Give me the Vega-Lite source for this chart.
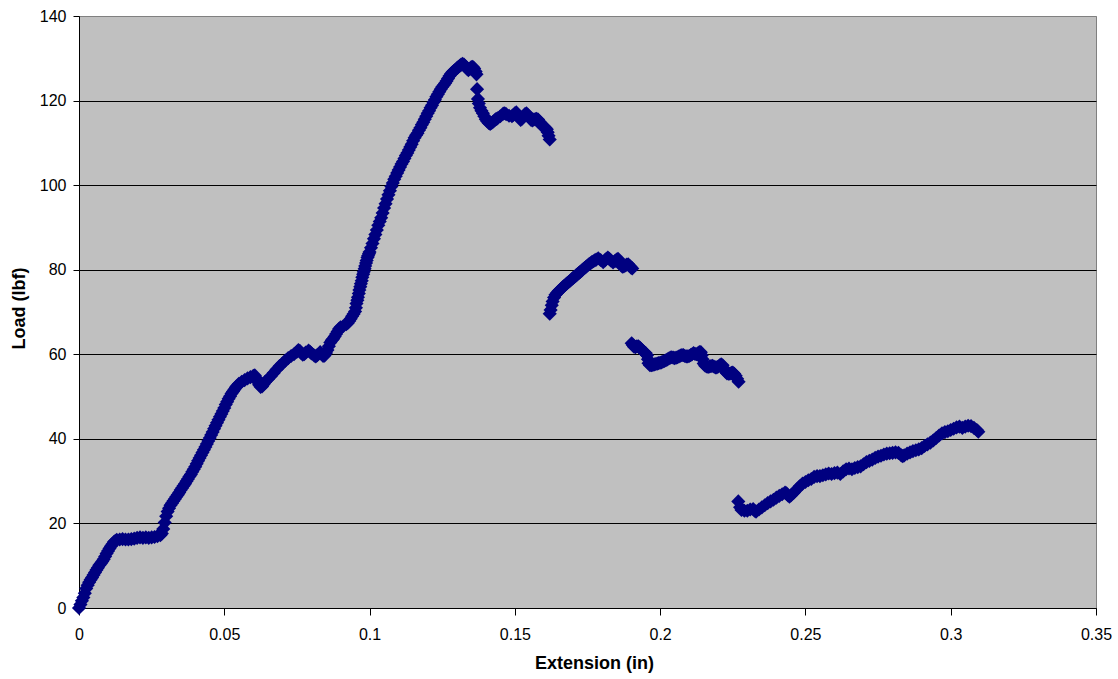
{
"$schema": "https://vega.github.io/schema/vega-lite/v6.json",
"width": 1017, "height": 592,
"autosize": {"type": "none"},
"padding": {"left": 79, "top": 16, "right": 22, "bottom": 71},
"background": "#ffffff",
"config": {"view": {"fill": "#C0C0C0", "stroke": "#808080", "strokeWidth": 1}, "font": "Liberation Sans"},
"data": {"values": [
{"ext":0,"load":0},{"ext":0.0005,"load":0.8},{"ext":0.001,"load":1.7},{"ext":0.0015,"load":2.5},{"ext":0.002,"load":3.5},{"ext":0.0025,"load":4.6},{"ext":0.003,"load":5.4},{"ext":0.0035,"load":6.1},{"ext":0.004,"load":6.7},{"ext":0.0045,"load":7.2},{"ext":0.005,"load":7.8},{"ext":0.0055,"load":8.4},{"ext":0.006,"load":9},{"ext":0.0065,"load":9.5},{"ext":0.007,"load":10.1},{"ext":0.0075,"load":10.5},{"ext":0.008,"load":11},{"ext":0.0085,"load":11.5},{"ext":0.009,"load":12.2},{"ext":0.0095,"load":12.9},{"ext":0.01,"load":13.5},{"ext":0.0105,"load":14.1},{"ext":0.011,"load":14.6},{"ext":0.0115,"load":15.1},{"ext":0.012,"load":15.6},{"ext":0.0125,"load":15.9},{"ext":0.013,"load":16.1},
{"ext":0.014,"load":16.2},{"ext":0.015,"load":16.3},{"ext":0.016,"load":16.2},{"ext":0.017,"load":16.2},{"ext":0.018,"load":16.3},{"ext":0.019,"load":16.4},{"ext":0.02,"load":16.6},{"ext":0.021,"load":16.7},{"ext":0.022,"load":16.6},{"ext":0.023,"load":16.7},{"ext":0.024,"load":16.6},{"ext":0.025,"load":16.7},{"ext":0.026,"load":16.8},{"ext":0.027,"load":17},{"ext":0.028,"load":17.2},
{"ext":0.0285,"load":17.6},{"ext":0.029,"load":18.7},{"ext":0.0295,"load":20.2},{"ext":0.03,"load":21.7},{"ext":0.0305,"load":22.8},{"ext":0.031,"load":23.6},{"ext":0.0315,"load":24.3},{"ext":0.032,"load":24.8},{"ext":0.0325,"load":25.3},{"ext":0.033,"load":25.8},{"ext":0.0335,"load":26.3},{"ext":0.034,"load":26.8},{"ext":0.0345,"load":27.3},{"ext":0.035,"load":27.9},{"ext":0.0355,"load":28.4},{"ext":0.036,"load":28.9},{"ext":0.0365,"load":29.4},{"ext":0.037,"load":30},{"ext":0.0375,"load":30.5},{"ext":0.038,"load":31.1},{"ext":0.0385,"load":31.6},{"ext":0.039,"load":32.2},{"ext":0.0395,"load":32.8},{"ext":0.04,"load":33.4},{"ext":0.0405,"load":34.1},{"ext":0.041,"load":34.8},{"ext":0.0415,"load":35.5},{"ext":0.042,"load":36.1},{"ext":0.0425,"load":36.8},{"ext":0.043,"load":37.4},{"ext":0.0435,"load":38.1},{"ext":0.044,"load":38.8},{"ext":0.0445,"load":39.5},{"ext":0.045,"load":40.2},{"ext":0.0455,"load":40.9},{"ext":0.046,"load":41.6},{"ext":0.0465,"load":42.4},{"ext":0.047,"load":43.1},{"ext":0.0475,"load":43.8},{"ext":0.048,"load":44.5},{"ext":0.0485,"load":45.2},{"ext":0.049,"load":45.9},{"ext":0.0495,"load":46.6},{"ext":0.05,"load":47.3},{"ext":0.0505,"load":48.1},{"ext":0.051,"load":48.8},{"ext":0.0515,"load":49.5},{"ext":0.052,"load":50.1},{"ext":0.0525,"load":50.7},{"ext":0.053,"load":51.2},{"ext":0.0535,"load":51.7},{"ext":0.054,"load":52.2},{"ext":0.0545,"load":52.6},{"ext":0.055,"load":53},{"ext":0.056,"load":53.5},{"ext":0.057,"load":53.9},{"ext":0.058,"load":54.3},{"ext":0.059,"load":54.6},{"ext":0.06,"load":54.9},{"ext":0.0605,"load":55},{"ext":0.061,"load":54.4},{"ext":0.0615,"load":53.5},{"ext":0.062,"load":52.8},{"ext":0.0625,"load":52.3},{"ext":0.063,"load":52.4},{"ext":0.0635,"load":52.9},{"ext":0.064,"load":53.4},{"ext":0.065,"load":54.1},{"ext":0.066,"load":54.8},{"ext":0.067,"load":55.6},{"ext":0.068,"load":56.4},{"ext":0.069,"load":57.2},{"ext":0.07,"load":57.8},{"ext":0.071,"load":58.5},{"ext":0.072,"load":59.1},{"ext":0.073,"load":59.6},{"ext":0.074,"load":60},{"ext":0.075,"load":60.6},{"ext":0.0755,"load":61},{"ext":0.076,"load":60.8},{"ext":0.0765,"load":60.3},{"ext":0.077,"load":59.9},{"ext":0.0775,"load":60},{"ext":0.078,"load":60.4},{"ext":0.079,"load":60.9},{"ext":0.0795,"load":60.6},{"ext":0.08,"load":60.2},{"ext":0.081,"load":59.7},{"ext":0.0815,"load":59.5},{"ext":0.082,"load":59.8},{"ext":0.083,"load":60.5},{"ext":0.0835,"load":60.1},{"ext":0.084,"load":59.6},{"ext":0.0845,"load":59.7},{"ext":0.085,"load":60.3},{"ext":0.0855,"load":61},{"ext":0.086,"load":61.9},{"ext":0.0865,"load":62.8},{"ext":0.087,"load":63.3},{"ext":0.0875,"load":63.7},{"ext":0.088,"load":64.2},{"ext":0.0885,"load":64.8},{"ext":0.089,"load":65.4},{"ext":0.0895,"load":66},{"ext":0.09,"load":66.4},{"ext":0.091,"load":66.7},{"ext":0.092,"load":67.1},{"ext":0.0925,"load":67.4},{"ext":0.093,"load":67.9},{"ext":0.0935,"load":68.4},{"ext":0.094,"load":69},{"ext":0.0945,"load":69.5},{"ext":0.095,"load":70.1},{"ext":0.0953,"load":71},{"ext":0.0955,"load":72},{"ext":0.0958,"load":72.8},{"ext":0.096,"load":73.5},{"ext":0.0963,"load":74.4},{"ext":0.0965,"load":75.2},{"ext":0.0968,"load":76},{"ext":0.097,"load":76.7},{"ext":0.0973,"load":77.4},{"ext":0.0975,"load":78.2},{"ext":0.0978,"load":78.9},{"ext":0.098,"load":79.5},{"ext":0.0983,"load":80.2},{"ext":0.0985,"load":80.9},{"ext":0.0988,"load":81.6},{"ext":0.099,"load":82.2},{"ext":0.0993,"load":82.9},{"ext":0.0995,"load":83.3},{"ext":0.0998,"load":83.8},{"ext":0.1,"load":84.2},{"ext":0.1005,"load":85.2},{"ext":0.101,"load":86.2},{"ext":0.1015,"load":87.3},{"ext":0.102,"load":88.3},{"ext":0.1025,"load":89.4},{"ext":0.103,"load":90.5},{"ext":0.1035,"load":91.4},{"ext":0.104,"load":92.3},{"ext":0.1045,"load":93.4},{"ext":0.105,"load":94.6},{"ext":0.1055,"load":95.6},{"ext":0.106,"load":96.7},{"ext":0.1065,"load":97.7},{"ext":0.107,"load":98.7},{"ext":0.1075,"load":99.7},{"ext":0.108,"load":100.5},{"ext":0.1085,"load":101.4},{"ext":0.109,"load":102.1},{"ext":0.1095,"load":102.9},{"ext":0.11,"load":103.6},{"ext":0.1105,"load":104.3},{"ext":0.111,"load":105},{"ext":0.1115,"load":105.6},{"ext":0.112,"load":106.3},{"ext":0.1125,"load":107},{"ext":0.113,"load":107.6},{"ext":0.1135,"load":108.3},{"ext":0.114,"load":109},{"ext":0.1145,"load":109.7},{"ext":0.115,"load":110.5},{"ext":0.1155,"load":111.2},{"ext":0.116,"load":111.8},{"ext":0.1165,"load":112.3},{"ext":0.117,"load":113},{"ext":0.1175,"load":113.6},{"ext":0.118,"load":114.3},{"ext":0.1185,"load":114.9},{"ext":0.119,"load":115.6},{"ext":0.1195,"load":116.3},{"ext":0.12,"load":117},{"ext":0.1205,"load":117.6},{"ext":0.121,"load":118.3},{"ext":0.1215,"load":118.9},{"ext":0.122,"load":119.6},{"ext":0.1225,"load":120.2},{"ext":0.123,"load":120.9},{"ext":0.1235,"load":121.5},{"ext":0.124,"load":122.1},{"ext":0.1245,"load":122.7},{"ext":0.125,"load":123.2},{"ext":0.1255,"load":123.6},{"ext":0.126,"load":124.1},{"ext":0.1265,"load":124.6},{"ext":0.127,"load":125.2},{"ext":0.1275,"load":125.8},{"ext":0.128,"load":126.3},{"ext":0.1285,"load":126.7},{"ext":0.129,"load":127},{"ext":0.1295,"load":127.3},{"ext":0.13,"load":127.6},{"ext":0.1305,"load":127.9},{"ext":0.131,"load":128.2},{"ext":0.1315,"load":128.5},{"ext":0.132,"load":128.7},{"ext":0.1325,"load":128.5},{"ext":0.133,"load":128.1},{"ext":0.1335,"load":127.6},{"ext":0.134,"load":127.2},{"ext":0.1345,"load":127.5},{"ext":0.135,"load":127.9},{"ext":0.1355,"load":128},{"ext":0.136,"load":127.6},{"ext":0.1365,"load":126.9},{"ext":0.1368,"load":126.2},{"ext":0.137,"load":122.7},{"ext":0.1373,"load":120.4},{"ext":0.1376,"load":119.3},{"ext":0.138,"load":118.3},{"ext":0.1385,"load":117.6},{"ext":0.139,"load":117},{"ext":0.1395,"load":116.3},{"ext":0.14,"load":115.6},{"ext":0.1405,"load":115.1},{"ext":0.141,"load":114.7},{"ext":0.1415,"load":114.5},{"ext":0.142,"load":114.7},{"ext":0.1425,"load":115},{"ext":0.143,"load":115.3},{"ext":0.1435,"load":115.6},{"ext":0.144,"load":115.8},{"ext":0.145,"load":116.3},{"ext":0.146,"load":116.9},{"ext":0.1465,"load":117},{"ext":0.147,"load":116.8},{"ext":0.148,"load":116.4},{"ext":0.149,"load":116.3},{"ext":0.1495,"load":116.6},{"ext":0.15,"load":117},{"ext":0.1505,"load":117.2},{"ext":0.151,"load":116.7},{"ext":0.1515,"load":116},{"ext":0.152,"load":115.4},{"ext":0.1525,"load":115.7},{"ext":0.153,"load":116.3},{"ext":0.1535,"load":116.8},{"ext":0.154,"load":117},{"ext":0.1545,"load":116.6},{"ext":0.155,"load":116},{"ext":0.1555,"load":115.5},{"ext":0.156,"load":115.3},{"ext":0.1565,"load":115.5},{"ext":0.157,"load":115.6},{"ext":0.1575,"load":115.7},{"ext":0.158,"load":115.5},{"ext":0.1585,"load":115},{"ext":0.159,"load":114.3},{"ext":0.1595,"load":114},{"ext":0.16,"load":113.8},{"ext":0.1605,"load":113.6},{"ext":0.161,"load":113.2},{"ext":0.1613,"load":112.5},{"ext":0.1616,"load":111.7},{"ext":0.162,"load":110.8},
{"ext":0.162,"load":69.6},{"ext":0.1623,"load":70.5},{"ext":0.1627,"load":71.6},{"ext":0.163,"load":72.5},{"ext":0.1635,"load":73.4},{"ext":0.164,"load":74.1},{"ext":0.1645,"load":74.5},{"ext":0.165,"load":74.9},{"ext":0.1655,"load":75.2},{"ext":0.166,"load":75.5},{"ext":0.1665,"load":75.9},{"ext":0.167,"load":76.2},{"ext":0.1675,"load":76.5},{"ext":0.168,"load":76.8},{"ext":0.1685,"load":77.1},{"ext":0.169,"load":77.4},{"ext":0.1695,"load":77.7},{"ext":0.17,"load":78},{"ext":0.1705,"load":78.3},{"ext":0.171,"load":78.6},{"ext":0.1715,"load":78.9},{"ext":0.172,"load":79.2},{"ext":0.1725,"load":79.5},{"ext":0.173,"load":79.8},{"ext":0.1735,"load":80.1},{"ext":0.174,"load":80.4},{"ext":0.1745,"load":80.7},{"ext":0.175,"load":81},{"ext":0.1755,"load":81.3},{"ext":0.176,"load":81.5},{"ext":0.1765,"load":81.8},{"ext":0.177,"load":82},{"ext":0.1775,"load":82.2},{"ext":0.178,"load":82.4},{"ext":0.1787,"load":82.7},{"ext":0.1795,"load":82.3},{"ext":0.1804,"load":81.8},{"ext":0.181,"load":82.2},{"ext":0.1815,"load":82.6},{"ext":0.182,"load":82.9},{"ext":0.1825,"load":82.6},{"ext":0.183,"load":82.2},{"ext":0.1838,"load":81.7},{"ext":0.1845,"load":82.1},{"ext":0.185,"load":82.4},{"ext":0.1855,"load":82.6},{"ext":0.186,"load":82},{"ext":0.1865,"load":81.2},{"ext":0.187,"load":80.7},{"ext":0.1875,"load":80.8},{"ext":0.188,"load":81},{"ext":0.1885,"load":81.2},{"ext":0.189,"load":81.3},{"ext":0.1895,"load":80.9},{"ext":0.19,"load":80.5},{"ext":0.1904,"load":80.3},
{"ext":0.1902,"load":62.6},{"ext":0.1906,"load":62.2},{"ext":0.191,"load":61.8},{"ext":0.1915,"load":61.7},{"ext":0.192,"load":61.9},{"ext":0.1925,"load":61.9},{"ext":0.193,"load":61.6},{"ext":0.1935,"load":61.2},{"ext":0.194,"load":60.8},{"ext":0.1945,"load":60.5},{"ext":0.195,"load":60.3},{"ext":0.1955,"load":59.8},{"ext":0.1958,"load":58.8},{"ext":0.196,"load":57.9},{"ext":0.1965,"load":57.4},{"ext":0.197,"load":57.4},{"ext":0.1975,"load":57.5},{"ext":0.198,"load":57.6},{"ext":0.1985,"load":57.7},{"ext":0.199,"load":57.8},{"ext":0.1995,"load":57.9},{"ext":0.2,"load":58},{"ext":0.2005,"load":58.1},{"ext":0.201,"load":58.3},{"ext":0.2015,"load":58.4},{"ext":0.202,"load":58.6},{"ext":0.2025,"load":58.8},{"ext":0.203,"load":59},{"ext":0.2035,"load":59.2},{"ext":0.204,"load":59.3},{"ext":0.2045,"load":59.2},{"ext":0.205,"load":59.1},{"ext":0.2055,"load":59.2},{"ext":0.206,"load":59.3},{"ext":0.2065,"load":59.5},{"ext":0.207,"load":59.7},{"ext":0.2075,"load":59.8},{"ext":0.208,"load":59.8},{"ext":0.2085,"load":59.6},{"ext":0.209,"load":59.5},{"ext":0.2095,"load":59.5},{"ext":0.21,"load":59.6},{"ext":0.2105,"load":59.8},{"ext":0.211,"load":60},{"ext":0.2115,"load":60.3},{"ext":0.212,"load":60.1},{"ext":0.2125,"load":60},{"ext":0.213,"load":60.2},{"ext":0.2135,"load":60.5},{"ext":0.214,"load":60.5},{"ext":0.2143,"load":59.8},{"ext":0.2146,"load":58.8},{"ext":0.215,"load":57.8},{"ext":0.2155,"load":57.3},{"ext":0.216,"load":57.1},{"ext":0.2165,"load":57},{"ext":0.217,"load":57.1},{"ext":0.2175,"load":57.2},{"ext":0.218,"load":57.3},{"ext":0.2185,"load":57.1},{"ext":0.219,"load":56.9},{"ext":0.2195,"load":56.9},{"ext":0.22,"load":57.1},{"ext":0.2205,"load":57.4},{"ext":0.221,"load":57.6},{"ext":0.2215,"load":57.4},{"ext":0.222,"load":56.6},{"ext":0.2225,"load":55.9},{"ext":0.223,"load":55.5},{"ext":0.2235,"load":55.4},{"ext":0.224,"load":55.4},{"ext":0.2245,"load":55.6},{"ext":0.225,"load":55.7},{"ext":0.2255,"load":55.4},{"ext":0.226,"load":54.9},{"ext":0.2265,"load":54.2},{"ext":0.227,"load":53.5},
{"ext":0.2269,"load":25.2},{"ext":0.2275,"load":23.8},{"ext":0.228,"load":23.2},{"ext":0.229,"load":23},{"ext":0.23,"load":23},{"ext":0.231,"load":23.3},{"ext":0.232,"load":23.4},{"ext":0.2325,"load":23},{"ext":0.233,"load":22.8},{"ext":0.234,"load":23.3},{"ext":0.235,"load":23.8},{"ext":0.236,"load":24.3},{"ext":0.237,"load":24.8},{"ext":0.238,"load":25.2},{"ext":0.239,"load":25.6},{"ext":0.24,"load":26.1},{"ext":0.241,"load":26.5},{"ext":0.242,"load":26.9},{"ext":0.243,"load":27.3},{"ext":0.2435,"load":27.1},{"ext":0.244,"load":26.6},{"ext":0.2445,"load":26.3},{"ext":0.245,"load":26.6},{"ext":0.246,"load":27.3},{"ext":0.247,"load":28},{"ext":0.248,"load":28.8},{"ext":0.249,"load":29.4},{"ext":0.25,"load":29.8},{"ext":0.251,"load":30.2},{"ext":0.252,"load":30.5},{"ext":0.253,"load":31},{"ext":0.254,"load":31.2},{"ext":0.255,"load":31.2},{"ext":0.256,"load":31.4},{"ext":0.257,"load":31.6},{"ext":0.258,"load":31.8},{"ext":0.259,"load":31.7},{"ext":0.26,"load":31.9},{"ext":0.261,"load":32},{"ext":0.262,"load":31.7},{"ext":0.263,"load":32.3},{"ext":0.264,"load":32.8},{"ext":0.265,"load":33},{"ext":0.266,"load":32.8},{"ext":0.267,"load":33.1},{"ext":0.268,"load":33.3},{"ext":0.269,"load":33.5},{"ext":0.27,"load":34},{"ext":0.271,"load":34.5},{"ext":0.272,"load":34.8},{"ext":0.273,"load":35.1},{"ext":0.274,"load":35.5},{"ext":0.275,"load":35.8},{"ext":0.276,"load":36},{"ext":0.277,"load":36.3},{"ext":0.278,"load":36.5},{"ext":0.279,"load":36.6},{"ext":0.28,"load":36.7},{"ext":0.281,"load":36.8},{"ext":0.282,"load":36.7},{"ext":0.283,"load":36.1},{"ext":0.2835,"load":35.9},{"ext":0.284,"load":36.1},{"ext":0.285,"load":36.5},{"ext":0.286,"load":36.8},{"ext":0.287,"load":37.1},{"ext":0.288,"load":37.3},{"ext":0.289,"load":37.5},{"ext":0.29,"load":37.8},{"ext":0.291,"load":38.3},{"ext":0.292,"load":38.7},{"ext":0.293,"load":39.1},{"ext":0.294,"load":39.6},{"ext":0.295,"load":40.2},{"ext":0.296,"load":40.8},{"ext":0.297,"load":41.3},{"ext":0.298,"load":41.6},{"ext":0.299,"load":41.8},{"ext":0.3,"load":42.1},{"ext":0.301,"load":42.4},{"ext":0.302,"load":42.7},{"ext":0.303,"load":42.9},{"ext":0.304,"load":42.6},{"ext":0.305,"load":42.9},{"ext":0.306,"load":43.1},{"ext":0.307,"load":43},{"ext":0.308,"load":42.6},{"ext":0.309,"load":42.1},{"ext":0.3095,"load":41.7}
]},
"mark": {"type": "point", "shape": "diamond", "filled": true, "size": 200, "color": "#000080", "opacity": 1, "strokeWidth": 0},
"encoding": {
  "x": {"field": "ext", "type": "quantitative",
    "scale": {"domain": [0, 0.35], "nice": false, "zero": true},
    "axis": {"title": "Extension (in)", "values": [0, 0.05, 0.1, 0.15, 0.2, 0.25, 0.3, 0.35], "format": "~g",
      "grid": false, "domainColor": "#000000", "domainWidth": 1, "tickColor": "#000000", "tickSize": 7, "tickWidth": 1,
      "labelColor": "#000000", "labelFontSize": 16, "labelPadding": 11, "labelFlush": false, "labelOverlap": false,
      "titleFontSize": 18, "titleFontWeight": "bold", "titleColor": "#000000", "titleX": 515, "titleY": 55, "titleBaseline": "middle", "titleAlign": "center"}},
  "y": {"field": "load", "type": "quantitative",
    "scale": {"domain": [0, 140], "nice": false, "zero": true},
    "axis": {"title": "Load (lbf)", "values": [0, 20, 40, 60, 80, 100, 120, 140], "format": "d",
      "grid": true, "gridColor": {"condition": {"test": "datum.value === 140", "value": "#808080"}, "value": "#000000"}, "gridWidth": 1, "gridOpacity": 1,
      "domainColor": "#000000", "domainWidth": 1, "tickColor": "#000000", "tickSize": 6, "tickWidth": 1,
      "labelColor": "#000000", "labelFontSize": 16, "labelPadding": 7, "labelFlush": false, "labelOverlap": false,
      "titleFontSize": 18, "titleFontWeight": "bold", "titleColor": "#000000", "titleX": -60, "titleY": 292, "titleBaseline": "middle", "titleAlign": "center", "titleAngle": -90}}
}
}
